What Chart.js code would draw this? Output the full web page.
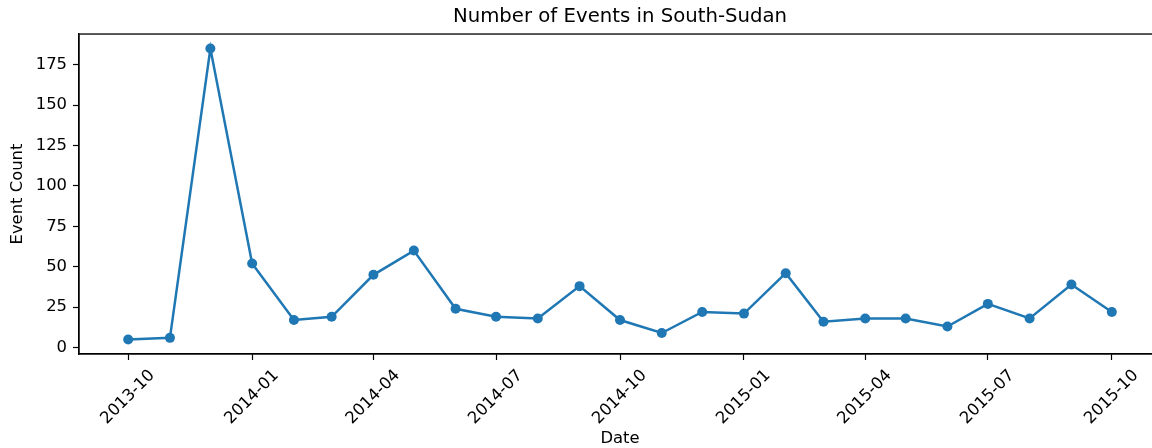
<!DOCTYPE html>
<html>
<head>
<meta charset="utf-8">
<script src="https://cdn.jsdelivr.net/npm/chart.js@4"></script>
<style>
html, body { margin: 0; padding: 0; background: #fff; overflow: hidden; }
#wrap { position: relative; width: 1166px; height: 448px; }
</style>
</head>
<body>
<div id="wrap"><canvas id="eventsChart"></canvas></div>
<script>
// monthly event counts
var months = ['2013-10', '2013-11', '2013-12', '2014-01', '2014-02', '2014-03', '2014-04',
	'2014-05', '2014-06', '2014-07', '2014-08', '2014-09', '2014-10', '2014-11', '2014-12',
	'2015-01', '2015-02', '2015-03', '2015-04', '2015-05', '2015-06', '2015-07', '2015-08',
	'2015-09', '2015-10'];
var eventCounts = [5, 6, 185, 52, 17, 19, 45, 60, 24, 19, 18, 38, 17, 9, 22,
	21, 46, 16, 18, 18, 13, 27, 18, 39, 22];
var xTickLabels = ['2013-10', '2014-01', '2014-04', '2014-07', '2014-10',
	'2015-01', '2015-04', '2015-07', '2015-10'];
var yTickValues = [0, 25, 50, 75, 100, 125, 150, 175];

function dayNum(s) {
	var p = s.split('-');
	return Date.UTC(+p[0], +p[1] - 1, 1) / 86400000;
}

var tickFont = { family: 'DejaVu Sans', size: 16.4 };
var labelFont = { family: 'DejaVu Sans', size: 16.4, lineHeight: 1 };

// matplotlib-style 5% margins
var xFirst = dayNum(months[0]), xLast = dayNum(months[months.length - 1]);
var xPad = (xLast - xFirst) * 0.05;
var yMin = Math.min.apply(null, eventCounts), yMax = Math.max.apply(null, eventCounts);
var yPad = (yMax - yMin) * 0.05;

// full box around the plot, like matplotlib spines
var framePlugin = {
	id: 'frame',
	afterDraw: function(chart) {
		var a = chart.chartArea, ctx = chart.ctx;
		ctx.save();
		ctx.strokeStyle = '#000';
		ctx.lineWidth = 1.3;
		ctx.strokeRect(a.left, a.top, a.right - a.left, a.bottom - a.top);
		ctx.restore();
	}
};

var ctx = document.getElementById('eventsChart').getContext('2d');
var eventsChart = new Chart(ctx, {
	type: 'line',
	data: {
		datasets: [{
			label: 'Event Count',
			data: months.map(function(m, i) { return { x: dayNum(m), y: eventCounts[i] }; }),
			borderColor: '#1f77b4',
			backgroundColor: '#1f77b4',
			borderWidth: 2.5,
			pointRadius: 5,
			pointBorderWidth: 0,
			pointHoverRadius: 5,
			tension: 0,
			fill: false
		}]
	},
	options: {
		responsive: true,
		maintainAspectRatio: false,
		animation: false,
		layout: { padding: { left: 0, right: 2, top: 0, bottom: 0 } },
		plugins: {
			legend: { display: false },
			tooltip: { enabled: false },
			title: {
				display: true,
				fullSize: false,
				text: 'Number of Events in South-Sudan',
				color: '#000',
				font: { family: 'DejaVu Sans', size: 19.7, weight: 'normal' },
				padding: { top: 5.2, bottom: 5.2 }
			}
		},
		scales: {
			x: {
				type: 'linear',
				min: xFirst - xPad,
				max: xLast + xPad,
				grid: { drawOnChartArea: false, drawTicks: true, tickLength: 6, color: '#000', tickWidth: 1.2 },
				border: { display: true, color: '#000', width: 1.3 },
				ticks: {
					font: tickFont,
					color: '#000',
					minRotation: 45,
					maxRotation: 45,
					autoSkip: false,
					padding: 6,
					labelOffset: 24,
					callback: function(v) {
						for (var i = 0; i < xTickLabels.length; i++) {
							if (dayNum(xTickLabels[i]) === v) return xTickLabels[i];
						}
						return '';
					}
				},
				afterBuildTicks: function(scale) {
					scale.ticks = xTickLabels.map(function(l) { return { value: dayNum(l) }; });
				},
				afterFit: function(scale) {
					scale.height = 94;
					scale.paddingLeft = 0;
					scale.paddingRight = 0;
				},
				title: {
					display: true,
					text: 'Date',
					color: '#000',
					font: labelFont,
					padding: { top: 0, bottom: 1 }
				}
			},
			y: {
				min: yMin - yPad,
				max: yMax + yPad,
				grid: { drawOnChartArea: false, drawTicks: true, tickLength: 6, color: '#000', tickWidth: 1.2 },
				border: { display: true, color: '#000', width: 1.3 },
				ticks: { font: tickFont, color: '#000', padding: 6 },
				afterBuildTicks: function(scale) {
					scale.ticks = yTickValues.map(function(v) { return { value: v }; });
				},
				afterFit: function(scale) {
					scale.width = 79;
					scale.paddingTop = 0;
					scale.paddingBottom = 0;
				},
				title: {
					display: true,
					text: 'Event Count',
					color: '#000',
					font: labelFont,
					padding: { top: 10, bottom: 0 }
				}
			}
		}
	},
	plugins: [framePlugin]
});
</script>
</body>
</html>
